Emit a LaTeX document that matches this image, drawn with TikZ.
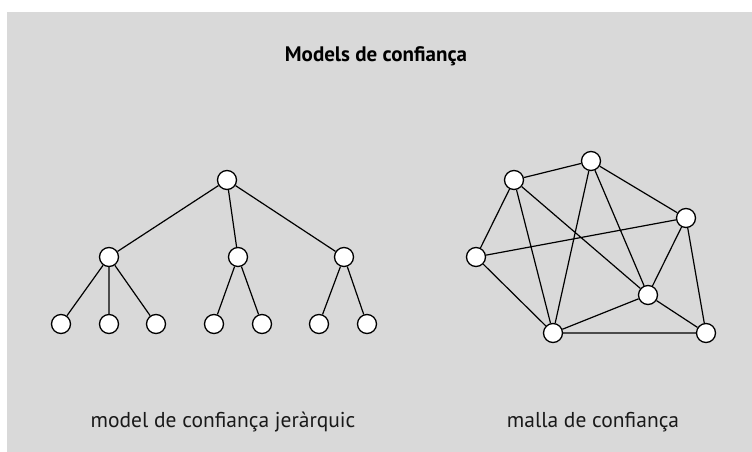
\documentclass[tikz,border=0pt]{standalone}
\usepackage{fontspec}
\setmainfont{PT Sans}
\begin{document}
\begin{tikzpicture}[x=1pt,y=-1pt,
  vtx/.style={circle,draw=black,fill=white,line width=1.3pt,minimum size=19pt,inner sep=0pt},
  edge/.style={line width=1.2pt,black},
  lbl/.style={font=\fontsize{21.5}{24}\selectfont,text=black!90,inner sep=0pt}]
\useasboundingbox (0,0) rectangle (752,452);
\fill[fill={rgb,255:red,217;green,217;blue,217}] (7,12) rectangle (752,452);
\node[font=\bfseries\fontsize{21}{24}\selectfont,inner sep=0pt,anchor=base] (title) at (376,62) {Models de confiança};
% tree
\node[vtx] (r) at (227,180) {};
\node[vtx] (a) at (109,257) {};
\node[vtx] (b) at (238,257) {};
\node[vtx] (c) at (344,257) {};
\node[vtx] (a1) at (61,324) {};
\node[vtx] (a2) at (109,324) {};
\node[vtx] (a3) at (156,324) {};
\node[vtx] (b1) at (214,324) {};
\node[vtx] (b2) at (262,324) {};
\node[vtx] (c1) at (319,324) {};
\node[vtx] (c2) at (367,324) {};
\draw[edge] (r) -- (a) (r) -- (b) (r) -- (c)
  (a) -- (a1) (a) -- (a2) (a) -- (a3)
  (b) -- (b1) (b) -- (b2) (c) -- (c1) (c) -- (c2);
% mesh
\node[vtx] (A) at (514,180) {};
\node[vtx] (B) at (591,161) {};
\node[vtx] (C) at (686,218) {};
\node[vtx] (D) at (476,257) {};
\node[vtx] (E) at (648,295) {};
\node[vtx] (F) at (553,333) {};
\node[vtx] (G) at (706,333) {};
\draw[edge] (A) -- (B) (B) -- (C) (A) -- (D) (A) -- (F) (A) -- (E)
  (B) -- (F) (B) -- (E) (D) -- (C) (C) -- (E) (C) -- (G)
  (D) -- (F) (F) -- (E) (F) -- (G) (E) -- (G);
\node[lbl,anchor=base] (l1) at (223,427) {model de confiança jeràrquic};
\node[lbl,anchor=base] (l2) at (593,427) {malla de confiança};
\end{tikzpicture}
\end{document}
